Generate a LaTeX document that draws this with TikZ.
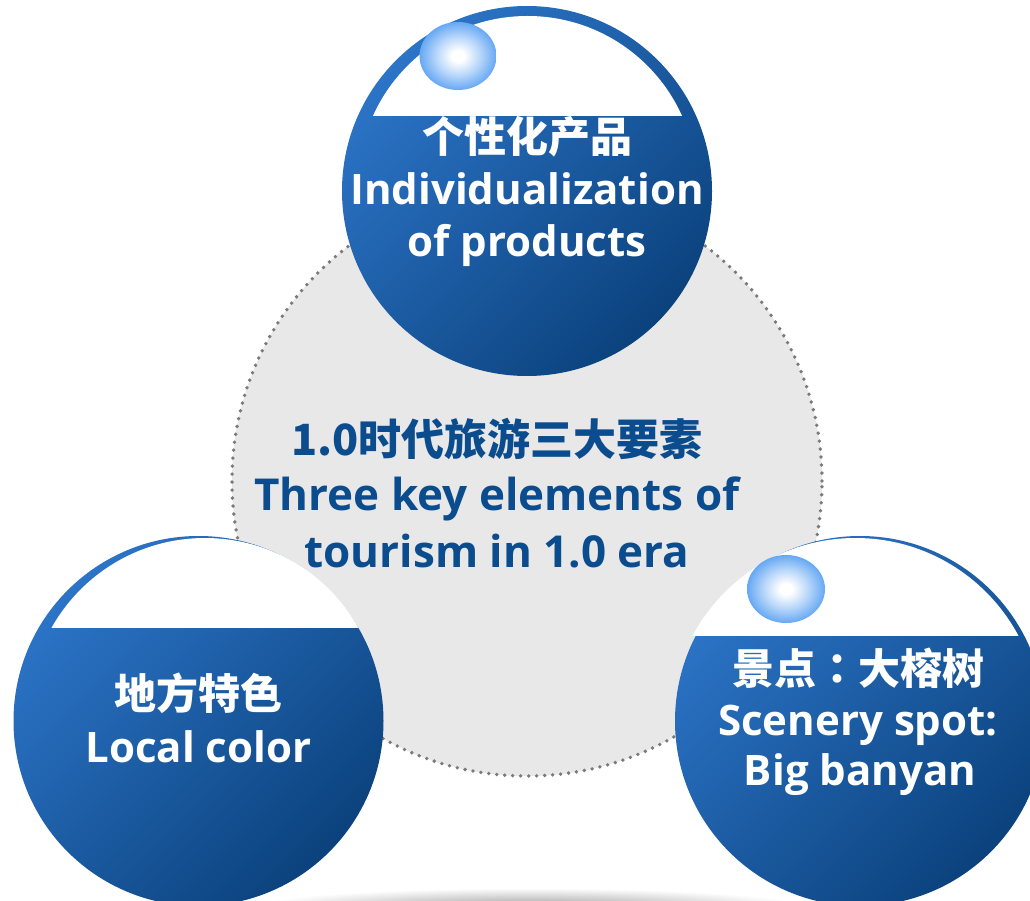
\documentclass[tikz,border=0pt]{standalone}
\usepackage{fontspec}
\setmainfont{Open Sans}
\newfontfamily\cjk{Noto Sans CJK SC}
\newfontfamily\cjktc{Noto Sans CJK TC}
\definecolor{bL}{HTML}{2C74C7}
\definecolor{bD}{HTML}{0B427D}
\definecolor{ctxt}{HTML}{0A4C8E}
\definecolor{gfill}{HTML}{E8E8E8}
\definecolor{dotc}{HTML}{7A7A7A}
\definecolor{bub}{HTML}{66A8F4}
\colorlet{bubmid}{bub!45!white}
\pgfdeclareradialshading{bubble}{\pgfpoint{0bp}{0bp}}{color(0bp)=(white); color(4bp)=(white); color(14bp)=(bubmid); color(25bp)=(bub); color(50bp)=(bub)}
\begin{document}
\begin{tikzpicture}[x=1pt,y=-1pt,
  bluecirc/.style={circle, inner sep=0pt, minimum size=370pt, top color=bL, bottom color=bD, shading angle=45},
  wtxt/.style={anchor=base, text=white, inner sep=0pt, font=\fontsize{42}{42}\selectfont\bfseries},
  ctr/.style={anchor=base, text=ctxt, inner sep=0pt, font=\fontsize{44}{44}\selectfont\bfseries},
  dotline/.style={dotc, line width=3.8pt, line cap=round, dash pattern=on 0pt off 8pt},
  bubblestyle/.style={shading=bubble}
]
\useasboundingbox (0,0) rectangle (1030,901);
\clip (0,0) rectangle (1030,901);
\fill[white] (0,0) rectangle (1030,901);
% soft shadow at the bottom
\shade[inner color=black!40, outer color=white] (530,908) ellipse (280pt and 20pt);
% central grey disc
\node[circle, minimum size=590pt, fill=gfill, inner sep=0pt] (hub) at (527,481) {};
\draw[dotline] (hub.center) circle (295pt);
% top circle
\node[bluecirc] (ctop) at (527,191) {};
\begin{scope}
\clip (300,0) rectangle (760,116);
\fill[white] (527.5,185.4) circle (169.4pt);
\end{scope}
% left circle
\node[bluecirc] (cleft) at (198.5,721) {};
\begin{scope}
\clip (0,500) rectangle (420,627);
\fill[white] (205,714) circle (176pt);
\end{scope}
% right circle
\node[bluecirc] (cright) at (860,721) {};
\begin{scope}
\clip (640,500) rectangle (1060,635);
\fill[white] (855.5,722.6) circle (184.6pt);
\end{scope}
% bubbles
\shade[bubblestyle] (458,56) ellipse (38.5pt and 34pt);
\shade[bubblestyle] (786,589) ellipse (39pt and 34pt);
% texts
\node[wtxt] (t1) at (527,153) {\cjk 个性化产品};
\node[wtxt] (t2) at (527,205) {Individualization};
\node[wtxt] (t3) at (527,257) {of products};
\node[ctr, font=\fontsize{43}{43}\selectfont\bfseries] (c1) at (497,455) {\cjk 1.0时代旅游三大要素};
\node[ctr] (c2) at (497,510) {Three key elements of};
\node[ctr] (c3) at (497,567) {tourism in 1.0 era};
\node[wtxt] (l1) at (198.5,709) {\cjk 地方特色};
\node[wtxt] (l2) at (198.5,762) {Local color};
\node[wtxt] (r1) at (858,684) {\cjk 景点{\cjktc ：}大榕树};
\node[wtxt] (r2) at (858,735) {Scenery spot:};
\node[wtxt] (r3) at (860,785) {Big banyan};
\end{tikzpicture}
\end{document}
